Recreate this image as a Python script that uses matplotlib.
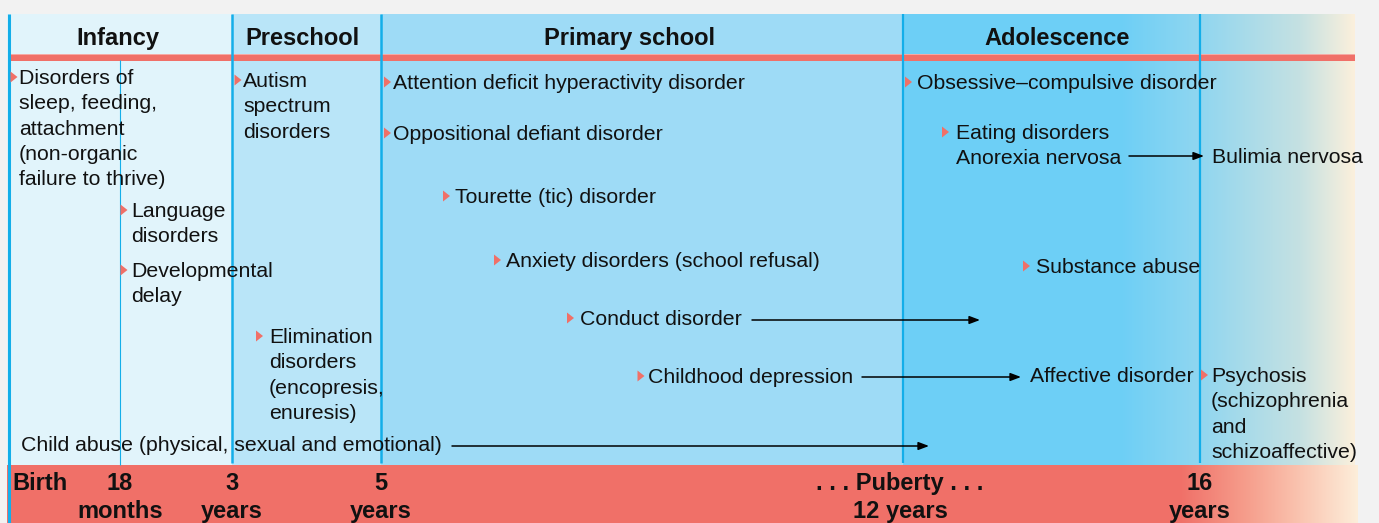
import numpy as np
import matplotlib.pyplot as plt
from matplotlib.patches import Rectangle, Polygon
from matplotlib.colors import to_rgb

plt.rcParams['font.family'] = ['Liberation Sans', 'DejaVu Sans']

# ---- data ----
stages = ["Infancy", "Preschool", "Primary school", "Adolescence"]
milestones = [["Birth"], ["18", "months"], ["3", "years"], ["5", "years"],
              [". . . Puberty . . .", "12 years"], ["16", "years"]]

disorders = [
    ["Disorders of", "sleep, feeding,", "attachment", "(non-organic", "failure to thrive)"],
    ["Language", "disorders"],
    ["Developmental", "delay"],
    ["Autism", "spectrum", "disorders"],
    ["Elimination", "disorders", "(encopresis,", "enuresis)"],
    ["Attention deficit hyperactivity disorder"],
    ["Oppositional defiant disorder"],
    ["Tourette (tic) disorder"],
    ["Anxiety disorders (school refusal)"],
    ["Conduct disorder"],
    ["Childhood depression"],
    ["Obsessive\u2013compulsive disorder"],
    ["Eating disorders", "Anorexia nervosa"],
    ["Substance abuse"],
    ["Psychosis", "(schizophrenia", "and", "schizoaffective)"],
]
# later forms that a disorder runs on into (no bullet)
outcomes = ["Child abuse (physical, sexual and emotional)", "Affective disorder", "Bulimia nervosa"]

# ---- layout (pixel space) ----
W, H = 1379, 523
top, band_top, right = 14, 465, 1355
stage_edges = [7, 232, 381, 903, 1200]
stage_cols = ['#e1f4fb', '#b9e5f8', '#9edbf6', '#6dcff6']
stage_label_x = [118, 302, 630, 1057]
milestone_x = [12, 120, 232, 381, 900, 1200]
disorder_xy = [(19, 84), (131, 217), (131, 277), (243, 87), (269, 343),
               (393, 89), (393, 140), (455, 203), (506, 267), (580, 325),
               (648, 383), (917, 89), (956, 139), (1036, 273), (1211, 382)]
bullet_x = [10.5, 120.5, 120.5, 234.5, 256, 384, 384, 443, 494, 567, 637.5, 905, 942, 1023, 1201]
outcome_xy = [(21, 451), (1030, 382), (1212, 163)]
arrows = [(452, 929, 446), (752, 980, 320), (862, 1021, 377), (1129, 1204, 156)]
step = 25.3
red = '#f07068'
blue = '#13aee9'
ink = '#111111'

fig = plt.figure(figsize=(W / 100, H / 100), dpi=100, facecolor='#f2f2f2')
ax = fig.add_axes([0, 0, 1, 1])
ax.set_xlim(0, W)
ax.set_ylim(H, 0)
ax.axis('off')


def gradient(x0, x1, y0, y1, stops, colors):
    xs = np.linspace(x0, x1, 400)
    rgb = np.array([to_rgb(c) for c in colors])
    img = np.stack([np.interp(xs, stops, rgb[:, k]) for k in range(3)], axis=-1)
    ax.imshow(img[None, :, :], extent=(x0, x1, y1, y0), aspect='auto',
              interpolation='bilinear', zorder=1)


# stage columns
for i, c in enumerate(stage_cols):
    ax.add_patch(Rectangle((stage_edges[i], top), stage_edges[i + 1] - stage_edges[i],
                           band_top - top, color=c, lw=0, zorder=0))
gradient(1120, right, top, band_top, [1120, 1200, 1300, right],
         ['#6dcff6', '#90d6f0', '#c5e1e2', '#fcf0dc'])

# bottom band
ax.add_patch(Rectangle((7, band_top), 1180 - 7, H - band_top, color=red, lw=0, zorder=0))
gradient(1180, 1358, band_top, H, [1180, 1250, 1300, 1358],
         [red, '#f6a08e', '#fac4b0', '#fdeeda'])

# header rule
ax.add_patch(Rectangle((10, 54), right - 10, 1, color='#f5aaa5', lw=0, zorder=2))
ax.add_patch(Rectangle((10, 55), right - 10, 5.5, color=red, lw=0, zorder=2))

# vertical separators
ax.plot([8.5, 8.5], [top, H], color=blue, lw=2.2, zorder=3, solid_capstyle='butt')
ax.plot([120, 120], [60, band_top], color=blue, lw=0.8, zorder=3, solid_capstyle='butt')
for x, lw in zip(stage_edges[1:], [1.8, 1.8, 1.6, 1.6]):
    ax.plot([x, x], [top, band_top - 2], color=blue, lw=lw, zorder=3, solid_capstyle='butt')

# stage titles
for name, x in zip(stages, stage_label_x):
    ax.text(x, 45, name, ha='center', va='baseline', fontsize=17, fontweight='bold',
            color=ink, zorder=4)

# milestones along the bottom
for i, (lines, x) in enumerate(zip(milestones, milestone_x)):
    for j, ln in enumerate(lines):
        ax.text(x, 490 + 28 * j, ln, ha='left' if i == 0 else 'center', va='baseline',
                fontsize=17, fontweight='bold', color=ink, zorder=4)

# disorders with bullets
for lines, (x, y), bx in zip(disorders, disorder_xy, bullet_x):
    ax.add_patch(Polygon([(bx, y - 12.5), (bx, y - 1.5), (bx + 7, y - 7)], closed=True,
                         color=red, lw=0, zorder=4))
    for j, ln in enumerate(lines):
        ax.text(x, y + step * j, ln, ha='left', va='baseline', fontsize=15.3,
                color=ink, zorder=4)

for txt, (x, y) in zip(outcomes, outcome_xy):
    ax.text(x, y, txt, ha='left', va='baseline', fontsize=15.3, color=ink, zorder=4)

for x0, x1, y in arrows:
    ax.annotate('', xy=(x1, y), xytext=(x0, y), zorder=4,
                arrowprops=dict(arrowstyle='-|>,head_length=0.45,head_width=0.17',
                                color='black', lw=1.1, mutation_scale=14,
                                shrinkA=0, shrinkB=0))

fig.savefig('out.png', dpi=100, facecolor=fig.get_facecolor())
